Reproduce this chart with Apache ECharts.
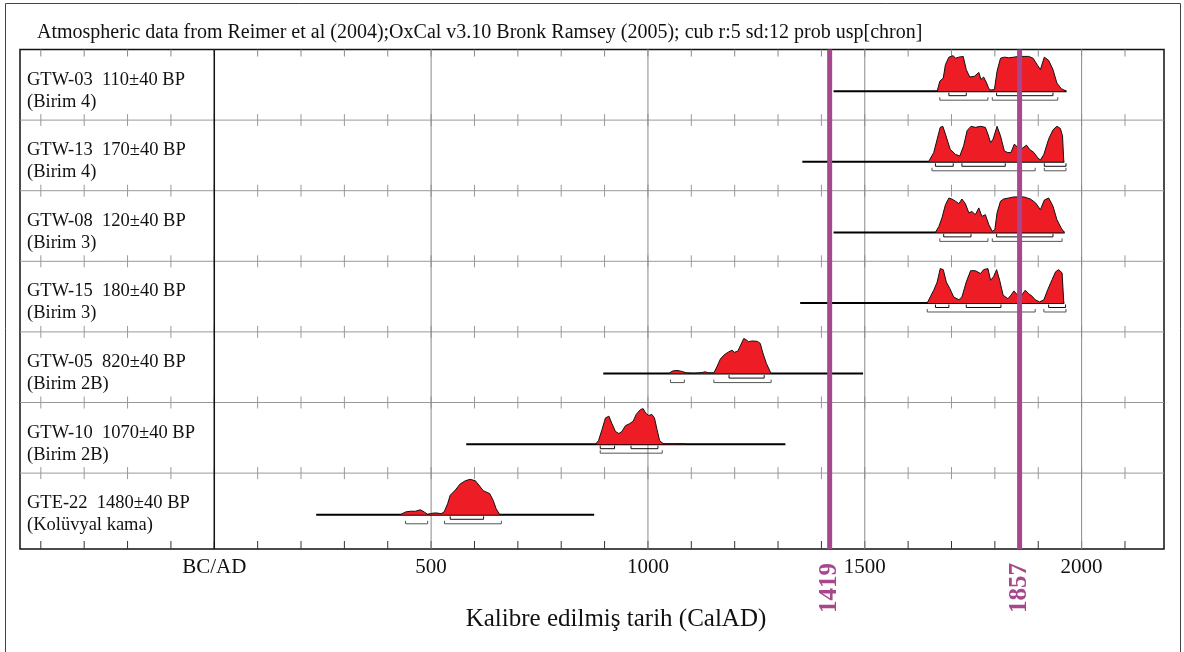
<!DOCTYPE html>
<html>
<head>
<meta charset="utf-8">
<script src="https://cdn.jsdelivr.net/npm/echarts@6/dist/echarts.min.js"></script>
<style>
  html, body { margin: 0; padding: 0; background: #fff; }
  #chart { width: 1184px; height: 652px; }
</style>
</head>
<body>
<div id="chart"></div>
<script>
  // samples, top to bottom
  const sampleNames = ['GTW-03  110±40 BP', 'GTW-13  170±40 BP', 'GTW-08  120±40 BP', 'GTW-15  180±40 BP',
    'GTW-05  820±40 BP', 'GTW-10  1070±40 BP', 'GTE-22  1480±40 BP']
  const sampleUnits = ['(Birim 4)', '(Birim 4)', '(Birim 3)', '(Birim 3)', '(Birim 2B)', '(Birim 2B)', '(Kolüvyal kama)']
  const baselineRanges = [[1428, 1965], [1356, 1960], [1428, 1961], [1351, 1960], [897, 1496], [581, 1317], [235, 876]]

  // probability curves [calAD, relative prob]
  const gtw03 = [[1667, 0], [1673, 0.28], [1681, 0.37], [1686, 0.75], [1694, 0.96], [1704, 1.0], [1709, 0.93], [1717, 0.96],
    [1721, 0.93], [1727, 0.98], [1734, 0.61], [1742, 0.40], [1753, 0.42], [1763, 0.53], [1768, 0.33], [1774, 0.40],
    [1781, 0.23], [1786, 0.07], [1791, 0.03], [1799, 0.05], [1805, 0.56], [1813, 0.93], [1822, 0.96], [1832, 0.94],
    [1844, 0.96], [1855, 0.98], [1878, 0.98], [1888, 0.93], [1899, 0.72], [1905, 0.61], [1914, 0.96], [1924, 0.87],
    [1934, 0.61], [1943, 0.23], [1953, 0.07], [1965, 0]]
  const gtw13 = [[1647, 0], [1659, 0.26], [1667, 0.64], [1674, 0.97], [1680, 1.0], [1686, 0.78], [1697, 0.35], [1709, 0.21],
    [1719, 0.16], [1728, 0.45], [1736, 0.88], [1745, 1.0], [1755, 0.97], [1767, 1.0], [1778, 0.97], [1784, 0.78],
    [1790, 0.54], [1796, 0.64], [1805, 1.0], [1813, 0.73], [1822, 0.30], [1830, 0.26], [1837, 0.26], [1845, 0.50],
    [1853, 0.40], [1860, 0.35], [1873, 0.47], [1880, 0.35], [1890, 0.26], [1899, 0.11], [1905, 0.05], [1913, 0.21],
    [1924, 0.64], [1934, 0.90], [1943, 1.0], [1951, 0.94], [1956, 0.73], [1959, 0]]
  const gtw08 = [[1663, 0], [1671, 0.17], [1678, 0.41], [1686, 0.78], [1694, 0.97], [1701, 0.94], [1709, 0.88], [1717, 0.81],
    [1724, 0.94], [1732, 0.81], [1740, 0.55], [1747, 0.59], [1755, 0.50], [1763, 0.69], [1770, 0.45], [1778, 0.50],
    [1786, 0.22], [1794, 0.03], [1800, 0.08], [1805, 0.55], [1813, 0.88], [1820, 0.94], [1832, 0.97], [1844, 1.0],
    [1867, 1.0], [1882, 0.94], [1894, 0.83], [1905, 0.64], [1914, 0.91], [1924, 0.97], [1934, 0.74], [1943, 0.36],
    [1953, 0.12], [1960, 0]]
  const gtw15 = [[1536, 0], [1548, 0.015], [1560, 0], [1644, 0], [1651, 0.17], [1659, 0.36], [1667, 0.59], [1674, 0.97],
    [1681, 0.94], [1688, 0.59], [1696, 0.41], [1705, 0.17], [1717, 0.09], [1724, 0.17], [1734, 0.59], [1744, 0.91],
    [1755, 0.91], [1767, 0.83], [1774, 0.94], [1784, 0.97], [1790, 0.64], [1797, 0.74], [1804, 0.94], [1811, 0.64],
    [1819, 0.22], [1830, 0.12], [1837, 0.22], [1844, 0.34], [1850, 0.25], [1859, 0.17], [1870, 0.36], [1878, 0.26],
    [1886, 0.19], [1893, 0.09], [1903, 0.03], [1913, 0.09], [1922, 0.38], [1932, 0.66], [1940, 0.88], [1947, 0.94],
    [1955, 0.85], [1959, 0]]
  const gtw05 = [[1048, 0], [1056, 0.07], [1067, 0.09], [1079, 0.06], [1089, 0.02], [1106, 0.005], [1125, 0.03], [1132, 0.05],
    [1140, 0.02], [1152, 0.02], [1159, 0.19], [1167, 0.41], [1176, 0.53], [1186, 0.61], [1194, 0.66], [1199, 0.60],
    [1207, 0.63], [1213, 0.78], [1221, 0.99], [1227, 0.95], [1232, 0.90], [1240, 0.92], [1252, 0.91], [1259, 0.85],
    [1265, 0.58], [1273, 0.29], [1284, 0]]
  const gtw10 = [[879, 0], [886, 0.10], [894, 0.41], [902, 0.74], [910, 0.79], [917, 0.58], [925, 0.36], [933, 0.30],
    [940, 0.36], [948, 0.52], [958, 0.58], [966, 0.65], [973, 0.84], [983, 0.98], [989, 1.0], [995, 0.87], [1002, 0.81],
    [1009, 0.84], [1015, 0.74], [1021, 0.41], [1027, 0.10], [1036, 0.01], [1060, 0.01], [1075, 0.015], [1090, 0]]
  const gte22 = [[429, 0], [441, 0.08], [452, 0.10], [464, 0.10], [475, 0.14], [484, 0.08], [492, 0.01], [498, 0.03],
    [506, 0.05], [514, 0.05], [523, 0.03], [530, 0.08], [538, 0.31], [544, 0.55], [556, 0.70], [567, 0.87], [579, 0.96],
    [590, 1.0], [602, 0.96], [610, 0.84], [620, 0.68], [629, 0.63], [635, 0.60], [643, 0.41], [650, 0.17], [658, 0.01],
    [667, 0]]
  const curves = [gtw03, gtw13, gtw08, gtw15, gtw05, gtw10, gte22]

  // 68.2% and 95.4% ranges
  const sigma1Ranges = [[[1694, 1734], [1804, 1934]], [[1663, 1704], [1724, 1824], [1914, 1964]],
    [[1682, 1745], [1804, 1934]], [[1663, 1694], [1734, 1814], [1924, 1963]], [[1187, 1268]],
    [[890, 923], [961, 1023]], [[544, 621]]]
  const sigma2Ranges = [[[1673, 1784], [1794, 1945]], [[1655, 1893], [1914, 1964]],
    [[1673, 1784], [1794, 1955]], [[1644, 1893], [1913, 1964]], [[1052, 1084], [1152, 1284]],
    [[890, 1033]], [[441, 492], [531, 662]]]

  const eventYears = [1419, 1857]
  const majorYears = [0, 500, 1000, 1500, 2000]
  const tickYears = [-400, -300, -200, -100, 0, 100, 200, 300, 400, 500, 600, 700, 800, 900, 1000, 1100,
    1200, 1300, 1400, 1500, 1600, 1700, 1800, 1900, 2000, 2100]

  const xMin = -448, xMax = 2190
  const gridLeft = 20, gridTop = 49.5, gridWidth = 1144, rowH = 70.6, gridHeight = 499.5
  const yMaxFrame = gridHeight / rowH
  const serif = '"Liberation Serif", "Times New Roman", serif'
  const purple = '#a8488c'

  let myChart = echarts.init(document.getElementById('chart'))

  let grids = [{left: gridLeft, top: gridTop, width: gridWidth, height: gridHeight, show: true,
    borderColor: '#111', borderWidth: 1.5}]
  let xAxes = [{
    type: 'value', gridIndex: 0, min: xMin, max: xMax,
    axisLine: {show: false}, axisTick: {show: false}, splitLine: {show: false},
    axisLabel: {
      customValues: majorYears, margin: 8, color: '#111', fontFamily: serif, fontSize: 21,
      formatter: v => v === 0 ? 'BC/AD' : String(v)
    },
    name: 'Kalibre edilmiş tarih (CalAD)', nameLocation: 'middle', nameGap: 58,
    nameTextStyle: {fontFamily: serif, fontSize: 25, color: '#111', padding: [0, 0, 0, 48]}
  }]
  let yAxes = [{type: 'value', gridIndex: 0, min: 0, max: yMaxFrame, inverse: true, show: false}]
  let series = []

  // horizontal row separators with crossing ticks
  series.push({
    type: 'custom', xAxisIndex: 0, yAxisIndex: 0, z: 1, silent: true,
    data: [1, 2, 3, 4, 5, 6],
    renderItem: (params, api) => {
      const b = api.value(0)
      const l = api.coord([xMin, b]), r = api.coord([xMax, b])
      const children = [{type: 'line', shape: {x1: l[0], y1: l[1], x2: r[0], y2: r[1]}, style: {stroke: '#999', lineWidth: 1}}]
      tickYears.forEach(t => {
        const p = api.coord([t, b])
        children.push({type: 'line', shape: {x1: p[0], y1: p[1] - 6, x2: p[0], y2: p[1] + 6}, style: {stroke: '#999', lineWidth: 1}})
      })
      return {type: 'group', children}
    }
  })
  // top and bottom inward ticks
  series.push({
    type: 'custom', xAxisIndex: 0, yAxisIndex: 0, z: 1, silent: true,
    data: tickYears,
    renderItem: (params, api) => {
      const t = api.value(0)
      const top = api.coord([t, 0]), bot = api.coord([t, yMaxFrame])
      return {type: 'group', children: [
        {type: 'line', shape: {x1: top[0], y1: top[1], x2: top[0], y2: top[1] + 7}, style: {stroke: '#888', lineWidth: 1}},
        {type: 'line', shape: {x1: bot[0], y1: bot[1], x2: bot[0], y2: bot[1] - 8}, style: {stroke: '#333', lineWidth: 1}}
      ]}
    }
  })
  // major vertical lines
  series.push({
    type: 'custom', xAxisIndex: 0, yAxisIndex: 0, z: 1, silent: true,
    data: majorYears,
    renderItem: (params, api) => {
      const t = api.value(0)
      const a = api.coord([t, 0]), b = api.coord([t, yMaxFrame])
      return {type: 'line', shape: {x1: a[0], y1: a[1], x2: b[0], y2: b[1]},
        style: {stroke: t === 0 ? '#111' : '#8a8a8a', lineWidth: t === 0 ? 1.5 : 1}}
    }
  })
  // row labels
  series.push({
    type: 'custom', xAxisIndex: 0, yAxisIndex: 0, z: 3, silent: true,
    data: sampleNames.map((n, i) => [i]),
    renderItem: (params, api) => {
      const i = api.value(0)
      const p = api.coord([xMin, i + 0.5])
      return {type: 'text', style: {text: sampleNames[i] + '\n' + sampleUnits[i], x: p[0] + 7, y: p[1] + 6,
        textVerticalAlign: 'middle', lineHeight: 22, font: '18.5px ' + serif, fill: '#111'}}
    }
  })

  for (let i = 0; i < curves.length; i++) {
    const g = i + 1
    grids.push({left: gridLeft, top: gridTop + rowH * i, width: gridWidth, height: rowH})
    xAxes.push({type: 'value', gridIndex: g, min: xMin, max: xMax, show: false})
    yAxes.push({type: 'value', gridIndex: g, min: -0.815, max: 1.175, show: false})
    series.push({
      type: 'line', xAxisIndex: g, yAxisIndex: g, z: 4, silent: true, showSymbol: false,
      data: baselineRanges[i].map(x => [x, 0]),
      lineStyle: {color: '#000', width: 2}
    })
    series.push({
      type: 'line', xAxisIndex: g, yAxisIndex: g, z: 5, silent: true, showSymbol: false,
      data: curves[i],
      lineStyle: {color: '#111', width: 1},
      areaStyle: {color: '#ee1c25', opacity: 1}
    })
    const brackets = sigma1Ranges[i].map(r => [r[0], r[1], 1]).concat(sigma2Ranges[i].map(r => [r[0], r[1], 2]))
    series.push({
      type: 'custom', xAxisIndex: g, yAxisIndex: g, z: 5, silent: true,
      data: brackets,
      renderItem: (params, api) => {
        const a = api.coord([api.value(0), 0]), b = api.coord([api.value(1), 0])
        const lvl = api.value(2)
        const y = a[1] + (lvl === 1 ? 4.5 : 9)
        return {type: 'polyline', shape: {points: [[a[0], y - 3], [a[0], y], [b[0], y], [b[0], y - 3]]},
          style: {stroke: lvl === 1 ? '#111' : '#555', lineWidth: 1, fill: null}}
      }
    })
  }

  // event lines and labels
  series.push({
    type: 'custom', xAxisIndex: 0, yAxisIndex: 0, z: 8, silent: true,
    data: eventYears,
    renderItem: (params, api) => {
      const t = api.value(0)
      const a = api.coord([t, 0]), b = api.coord([t, yMaxFrame])
      return {type: 'group', children: [
        {type: 'rect', shape: {x: a[0] - 2.5, y: a[1], width: 5, height: b[1] - a[1]}, style: {fill: purple}},
        {type: 'text', x: a[0], y: b[1] + 39, rotation: Math.PI / 2,
          style: {text: String(t), x: 0, y: 0, textAlign: 'center', textVerticalAlign: 'middle',
            font: 'bold 25px ' + serif, fill: purple}}
      ]}
    }
  })

  myChart.setOption({
    backgroundColor: '#fff',
    animation: false,
    title: {
      text: 'Atmospheric data from Reimer et al (2004);OxCal v3.10 Bronk Ramsey (2005); cub r:5 sd:12 prob usp[chron]',
      left: 32, top: 18,
      textStyle: {fontFamily: serif, fontSize: 20, fontWeight: 'normal', color: '#111'}
    },
    graphic: [{type: 'rect', shape: {x: 5.5, y: 3.5, width: 1175, height: 700}, style: {fill: null, stroke: '#444', lineWidth: 1}, silent: true}],
    grid: grids,
    xAxis: xAxes,
    yAxis: yAxes,
    series: series
  })
</script>
</body>
</html>
